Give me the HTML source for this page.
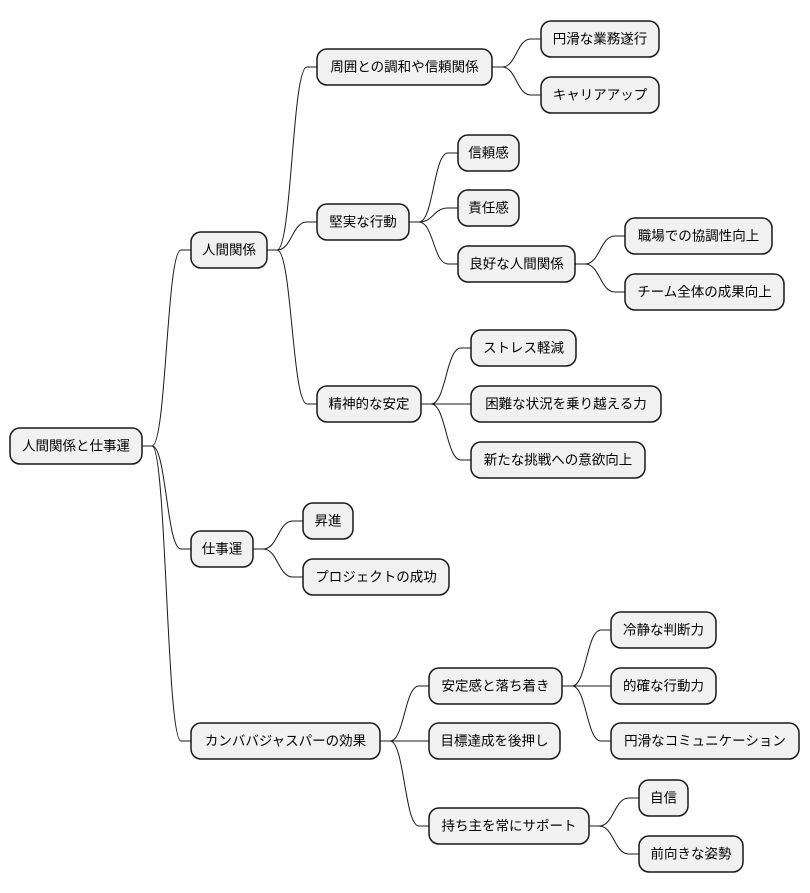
<!DOCTYPE html>
<html><head><meta charset="utf-8"><style>
html,body{margin:0;padding:0;background:#fff;}
svg{display:block;}
text{font-family:"Liberation Sans","Noto Sans CJK JP",sans-serif;font-size:13.5px;fill:#000;text-anchor:middle;dominant-baseline:central;}
rect{fill:#f1f1f1;stroke:#181818;stroke-width:1.5;}
path{fill:none;stroke:#181818;stroke-width:1;}
</style></head><body>
<svg width="810" height="893" viewBox="0 0 810 893" xmlns="http://www.w3.org/2000/svg">
<g>
<path d="M142 446H152C166.5 446 166.5 250 181 250H191"/>
<path d="M142 446H152C166.5 446 166.5 549 181 549H191"/>
<path d="M142 446H152C166.5 446 166.5 741 181 741H191"/>
<path d="M267 250H277C292 250 292 67 307 67H317"/>
<path d="M267 250H277C292 250 292 222 307 222H317"/>
<path d="M267 250H277C292 250 292 404 307 404H317"/>
<path d="M492 67H502C516.5 67 516.5 39 531 39H541"/>
<path d="M492 67H502C516.5 67 516.5 95 531 95H541"/>
<path d="M409 222H419C433.5 222 433.5 153 448 153H458"/>
<path d="M409 222H419C433.5 222 433.5 208 448 208H458"/>
<path d="M409 222H419C433.5 222 433.5 264 448 264H458"/>
<path d="M575 264H585C600 264 600 236 615 236H625"/>
<path d="M575 264H585C600 264 600 292 615 292H625"/>
<path d="M421 404H431C446 404 446 348 461 348H471"/>
<path d="M421 404H471"/>
<path d="M421 404H431C446 404 446 460 461 460H471"/>
<path d="M253 549H263C278 549 278 521 293 521H303"/>
<path d="M253 549H263C278 549 278 577 293 577H303"/>
<path d="M380 741H390C404.5 741 404.5 686 419 686H429"/>
<path d="M380 741H429"/>
<path d="M380 741H390C404.5 741 404.5 826 419 826H429"/>
<path d="M562 686H572C586.5 686 586.5 630 601 630H611"/>
<path d="M562 686H611"/>
<path d="M562 686H572C586.5 686 586.5 741 601 741H611"/>
<path d="M589 826H599C614 826 614 798 629 798H639"/>
<path d="M589 826H599C614 826 614 854 629 854H639"/>
</g>
<g>
<rect x="10" y="428" width="132" height="36" rx="10"/><text x="76" y="446">人間関係と仕事運</text>
<rect x="191" y="232" width="76" height="36" rx="10"/><text x="229" y="250">人間関係</text>
<rect x="317" y="49" width="175" height="36" rx="10"/><text x="404.5" y="67">周囲との調和や信頼関係</text>
<rect x="541" y="21" width="118" height="36" rx="10"/><text x="600" y="39">円滑な業務遂行</text>
<rect x="541" y="77" width="118" height="36" rx="10"/><text x="600" y="95">キャリアアップ</text>
<rect x="317" y="204" width="92" height="36" rx="10"/><text x="363" y="222">堅実な行動</text>
<rect x="458" y="135" width="61" height="36" rx="10"/><text x="488.5" y="153">信頼感</text>
<rect x="458" y="190" width="61" height="36" rx="10"/><text x="488.5" y="208">責任感</text>
<rect x="458" y="246" width="117" height="36" rx="10"/><text x="516.5" y="264">良好な人間関係</text>
<rect x="625" y="218" width="147" height="36" rx="10"/><text x="698.5" y="236">職場での協調性向上</text>
<rect x="625" y="274" width="159" height="36" rx="10"/><text x="704.5" y="292">チーム全体の成果向上</text>
<rect x="317" y="386" width="104" height="36" rx="10"/><text x="369" y="404">精神的な安定</text>
<rect x="471" y="330" width="105" height="36" rx="10"/><text x="523.5" y="348">ストレス軽減</text>
<rect x="471" y="386" width="190" height="36" rx="10"/><text x="566" y="404">困難な状況を乗り越える力</text>
<rect x="471" y="442" width="174" height="36" rx="10"/><text x="558" y="460">新たな挑戦への意欲向上</text>
<rect x="191" y="531" width="62" height="36" rx="10"/><text x="222" y="549">仕事運</text>
<rect x="303" y="503" width="50" height="36" rx="10"/><text x="328" y="521">昇進</text>
<rect x="303" y="559" width="146" height="36" rx="10"/><text x="376" y="577">プロジェクトの成功</text>
<rect x="191" y="723" width="189" height="36" rx="10"/><text x="285.5" y="741">カンババジャスパーの効果</text>
<rect x="429" y="668" width="133" height="36" rx="10"/><text x="495.5" y="686">安定感と落ち着き</text>
<rect x="611" y="612" width="105" height="36" rx="10"/><text x="663.5" y="630">冷静な判断力</text>
<rect x="611" y="668" width="105" height="36" rx="10"/><text x="663.5" y="686">的確な行動力</text>
<rect x="611" y="723" width="188" height="36" rx="10"/><text x="705" y="741">円滑なコミュニケーション</text>
<rect x="429" y="723" width="131" height="36" rx="10"/><text x="494.5" y="741">目標達成を後押し</text>
<rect x="429" y="808" width="160" height="36" rx="10"/><text x="509" y="826">持ち主を常にサポート</text>
<rect x="639" y="780" width="49" height="36" rx="10"/><text x="663.5" y="798">自信</text>
<rect x="639" y="836" width="104" height="36" rx="10"/><text x="691" y="854">前向きな姿勢</text>
</g>
</svg>
</body></html>
